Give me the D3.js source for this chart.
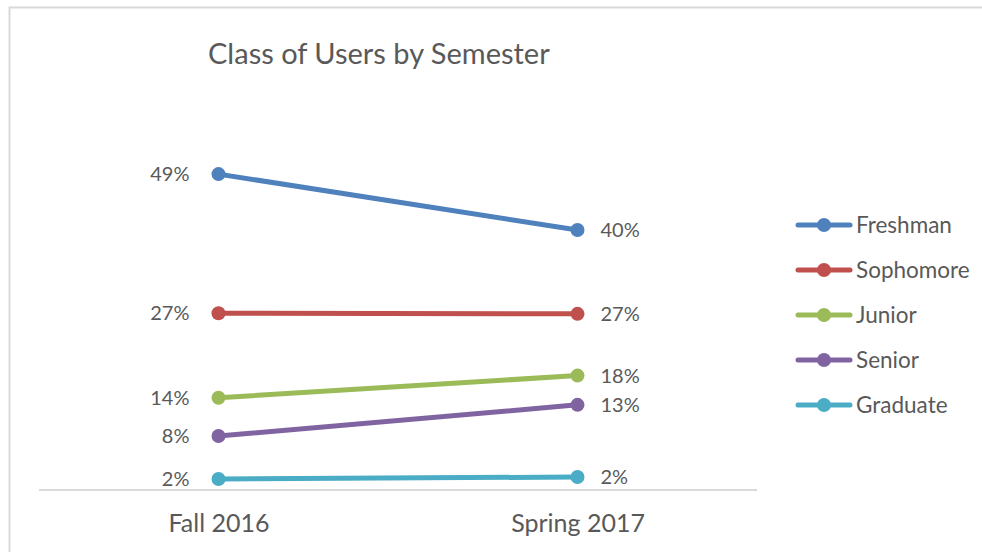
<!DOCTYPE html>
<html>
<head>
<meta charset="utf-8">
<script src="https://cdn.jsdelivr.net/npm/d3@7"></script>
<style>
  body { margin: 0; background: #fff; }
  svg { display: block; font-family: Lato, "Open Sans", sans-serif; }
</style>
</head>
<body>
<div id="chart"></div>
<script>
// data
const categories = ["Fall 2016", "Spring 2017"];
const seriesNames = ["Freshman", "Sophomore", "Junior", "Senior", "Graduate"];
const fallValues = [0.486, 0.272, 0.142, 0.083, 0.017];
const springValues = [0.400, 0.271, 0.176, 0.131, 0.020];
const colors = ["#4F81BD", "#C0504D", "#9BBB59", "#8064A2", "#4BACC6"];

const width = 982, height = 552;
const textColor = "#595959";

const svg = d3.select("#chart").append("svg")
  .attr("width", width)
  .attr("height", height);

// chart border
svg.append("rect")
  .attr("x", 9.5).attr("y", 7.5)
  .attr("width", 1000).attr("height", 600)
  .attr("fill", "none")
  .attr("stroke", "#d9d9d9")
  .attr("stroke-width", 2);

// title
svg.append("text")
  .attr("x", 208).attr("y", 64)
  .attr("fill", textColor)
  .style("font-size", "29px")
  .text("Class of Users by Semester");

const x = d3.scalePoint()
  .domain(categories)
  .range([39, 757])
  .padding(0.5);

const y = d3.scaleLinear()
  .domain([0, 0.6])
  .range([490, 100]);

// category axis
const xAxis = svg.append("g")
  .attr("transform", `translate(0,${y(0)})`)
  .call(d3.axisBottom(x).tickSize(0).tickPadding(24));
xAxis.select(".domain").attr("stroke", "#d9d9d9").attr("stroke-width", 2)
  .attr("d", `M39,0H757`);
xAxis.selectAll("text")
  .attr("fill", textColor)
  .style("font-size", "25px")
  .style("font-family", "Lato, 'Open Sans', sans-serif");

const series = seriesNames.map((name, i) => ({
  name,
  color: colors[i],
  values: [fallValues[i], springValues[i]]
}));

const line = d3.line()
  .x((d, j) => x(categories[j]))
  .y(d => y(d));

const fmt = d3.format(".0%");

const g = svg.append("g");
series.forEach(s => {
  g.append("path")
    .attr("d", line(s.values))
    .attr("fill", "none")
    .attr("stroke", s.color)
    .attr("stroke-width", 5)
    .attr("stroke-linecap", "round");
  s.values.forEach((v, j) => {
    g.append("circle")
      .attr("cx", x(categories[j]))
      .attr("cy", y(v))
      .attr("r", 7)
      .attr("fill", s.color);
    g.append("text")
      .attr("x", j === 0 ? x(categories[j]) - 29 : x(categories[j]) + 23)
      .attr("y", y(v))
      .attr("dy", "0.35em")
      .attr("text-anchor", j === 0 ? "end" : "start")
      .attr("fill", textColor)
      .style("font-size", "20px")
      .text(fmt(v));
  });
});

// legend
const legend = svg.append("g");
series.forEach((s, i) => {
  const ly = 225 + i * 45;
  legend.append("line")
    .attr("x1", 798).attr("x2", 850)
    .attr("y1", ly).attr("y2", ly)
    .attr("stroke", s.color)
    .attr("stroke-width", 5)
    .attr("stroke-linecap", "round");
  legend.append("circle")
    .attr("cx", 824).attr("cy", ly)
    .attr("r", 7)
    .attr("fill", s.color);
  legend.append("text")
    .attr("x", 856).attr("y", ly)
    .attr("dy", "0.35em")
    .attr("fill", textColor)
    .style("font-size", "22.5px")
    .text(s.name);
});
</script>
</body>
</html>
